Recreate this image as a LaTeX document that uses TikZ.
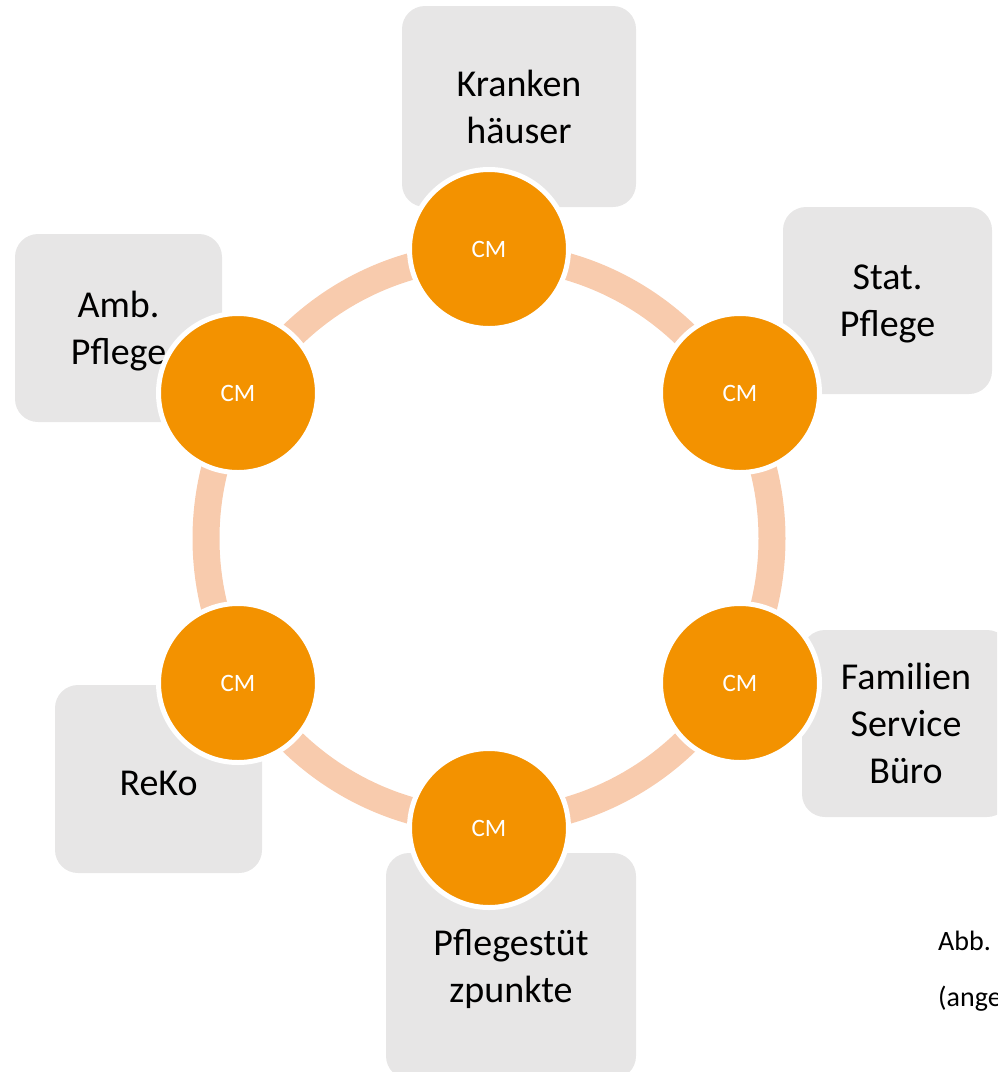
\documentclass[tikz,border=0pt]{standalone}
\usepackage{fontspec}
\setmainfont{Carlito}
\definecolor{cmorange}{RGB}{243,146,0}
\definecolor{ringc}{RGB}{248,203,173}
\definecolor{boxgray}{RGB}{231,230,230}
\begin{document}
\begin{tikzpicture}[x=1pt,y=-1pt,
  graybox/.style={fill=boxgray, rounded corners=23pt, inner sep=0pt, align=center, text depth=0pt, font=\fontsize{38}{47}\selectfont, text=black},
  cmnode/.style={circle, fill=cmorange, draw=white, line width=5pt, minimum size=159pt, inner sep=0pt, text=white, font=\fontsize{25}{30}\selectfont},
  ringstyle/.style={draw=ringc, line width=27pt},
  notetext/.style={anchor=base west, inner sep=0pt, font=\fontsize{28}{34}\selectfont}
]
\useasboundingbox (0,0) rectangle (997,1072);
\clip (0,0) rectangle (997,1072);
% boxes
\node[graybox, minimum width=234pt, minimum height=201pt] (bK) at (519,106.5) {Kranken\\häuser};
\node[graybox, minimum width=209pt, minimum height=187pt] (bS) at (887.5,300.5) {Stat.\\Pflege};
\node[graybox, minimum width=208pt, minimum height=187pt] (bF) at (906,723.5) {Familien\\Service\\Büro};
\node[graybox, minimum width=250pt, minimum height=226pt] (bP) at (511,966) {Pflegestüt\\zpunkte};
\node[graybox, minimum width=207pt, minimum height=188pt] (bA) at (118.5,328) {Amb.\\Pflege};
\node[graybox, minimum width=207pt, minimum height=188pt, text height=32pt] (bR) at (158.5,779) {ReKo};
% ring
\coordinate (ctr) at (489,538.5);
\draw[ringstyle] (ctr) circle[radius=283pt];
% CM circles
\node[cmnode] (c1) at (489,249) {CM};
\node[cmnode] (c2) at (740,393) {CM};
\node[cmnode] (c3) at (740,683) {CM};
\node[cmnode] (c4) at (489,828) {CM};
\node[cmnode] (c5) at (238,683) {CM};
\node[cmnode] (c6) at (238,393) {CM};
% caption fragments (cut at the right edge, as in the original)
\node[notetext] (abb) at (938,950) {Abb.};
\node[notetext] (ange) at (938,1006) {(ange};
\end{tikzpicture}
\end{document}
